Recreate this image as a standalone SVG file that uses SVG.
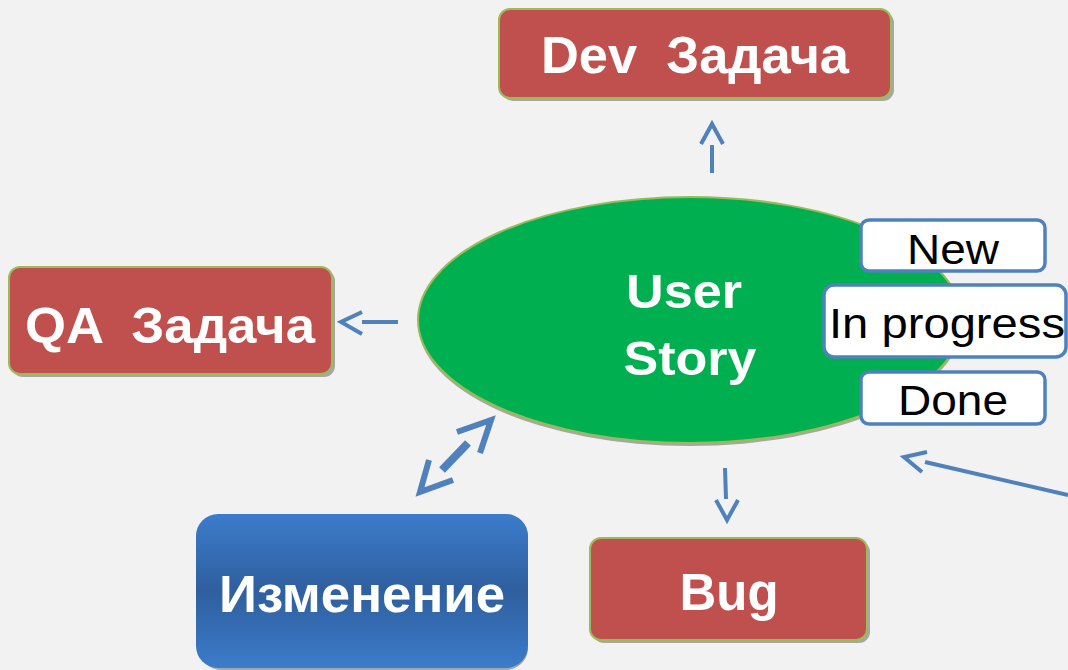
<svg xmlns="http://www.w3.org/2000/svg" width="1068" height="670" viewBox="0 0 1068 670">
<defs>
<linearGradient id="blueGrad" x1="0" y1="0" x2="0" y2="1">
<stop offset="0" stop-color="#3B7CCB"/>
<stop offset="0.5" stop-color="#2F5F9E"/>
<stop offset="1" stop-color="#3B7CCB"/>
</linearGradient>
</defs>
<style>
.bg{fill:#F2F2F2}
.task{fill:#C0504D;stroke:#9BBB59;stroke-width:2}
.shadow{fill:#A6A6A6}
.wt{fill:#FFFFFF;font-family:"Liberation Sans",Arial,sans-serif;font-weight:bold;text-anchor:middle;white-space:pre}
.st{fill:#FFFFFF;stroke:#4F81BD;stroke-width:3.5}
.bt{fill:#000000;font-family:"Liberation Sans",Arial,sans-serif;font-size:42px;text-anchor:middle}
.arr{fill:none;stroke:#4F81BD;stroke-width:4}
</style>
<rect class="bg" x="0" y="0" width="1068" height="670"/>

<g id="connectors">
<path class="arr" d="M712,173 V145 M701,144 L712,124 L723,144"/>
<path class="arr" d="M725,468 L726,499 M716,500 L727,520 L738,500"/>
<path class="arr" d="M398,322 H362 M362,312 L341,322 L362,334"/>
<path class="arr" d="M468,443 L442,470" style="stroke-width:8"/>
<path class="arr" d="M457,432 L491,420 L480,453 M429,460 L420,492 L453,480" style="stroke-width:6"/>
<path class="arr" d="M925,462 L1068,495 M927,452 L904,457 L922,472"/>
</g>

<g id="dev-task">
<rect class="shadow" x="502" y="12" width="392" height="89" rx="11"/>
<rect class="task" x="499" y="9" width="392" height="89" rx="11"/>
<text class="wt" x="695" y="73" font-size="52" xml:space="preserve" textLength="308" lengthAdjust="spacingAndGlyphs">Dev  Задача</text>
</g>

<g id="qa-task">
<rect class="shadow" x="12" y="270" width="323" height="107" rx="11"/>
<rect class="task" x="9" y="267" width="323" height="107" rx="11"/>
<text class="wt" x="170" y="343" font-size="50" xml:space="preserve" textLength="290" lengthAdjust="spacingAndGlyphs">QA  Задача</text>
</g>

<g id="bug">
<rect class="shadow" x="593" y="541" width="277" height="102" rx="11"/>
<rect class="task" x="590" y="538" width="277" height="102" rx="11"/>
<text class="wt" x="729" y="610" font-size="51">Bug</text>
</g>

<g id="change">
<rect class="shadow" x="199" y="517" width="329" height="153" rx="22"/>
<rect fill="url(#blueGrad)" x="196" y="514" width="332" height="154" rx="22"/>
<text class="wt" x="362" y="612" font-size="52" textLength="286" lengthAdjust="spacingAndGlyphs">Изменение</text>
</g>

<g id="user-story">
<ellipse cx="690" cy="323" rx="272" ry="123" fill="#A6A6A6"/>
<ellipse cx="690" cy="320" rx="272" ry="123" fill="#00B050" stroke="#9BBB59" stroke-width="2"/>
<text class="wt" x="684" y="308" font-size="48" textLength="116" lengthAdjust="spacingAndGlyphs">User</text>
<text class="wt" x="690" y="375" font-size="48" textLength="133" lengthAdjust="spacingAndGlyphs">Story</text>
</g>

<g id="status-new">
<rect class="st" x="861" y="220" width="184" height="51" rx="8"/>
<text class="bt" x="953" y="264" textLength="92" lengthAdjust="spacingAndGlyphs">New</text>
</g>

<g id="status-in-progress">
<rect class="st" x="824" y="285" width="242" height="72" rx="10"/>
<text class="bt" x="947" y="338" textLength="236" lengthAdjust="spacingAndGlyphs">In progress</text>
</g>

<g id="status-done">
<rect class="st" x="861" y="372" width="184" height="52" rx="8"/>
<text class="bt" x="953" y="415" textLength="110" lengthAdjust="spacingAndGlyphs">Done</text>
</g>
</svg>
